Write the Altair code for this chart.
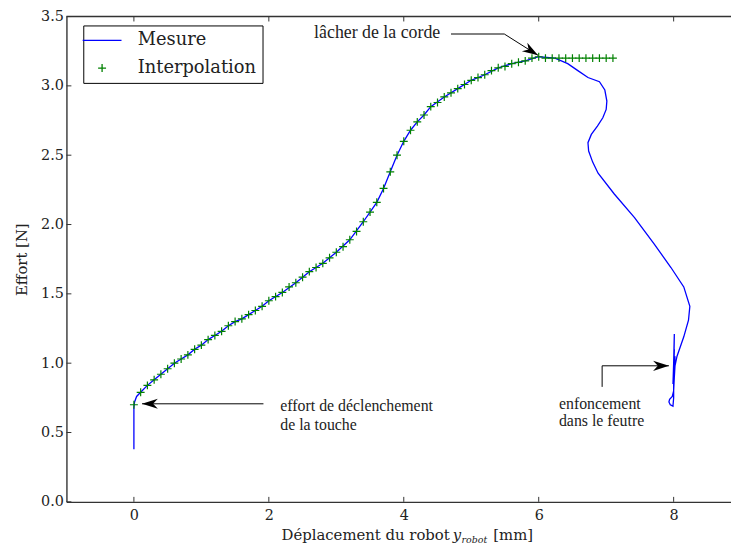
import altair as alt
import pandas as pd

# ---------------- data ----------------
mes_x = [0.0, 0.0, 0.0, 0.01, 0.04, 0.1, 0.2, 0.3, 0.4, 0.5, 0.6, 0.7, 0.8, 0.9, 1.0,
         1.1, 1.2, 1.3, 1.4, 1.5, 1.6, 1.7, 1.8, 1.9, 2.0, 2.2, 2.4, 2.6, 2.8, 3.0,
         3.2, 3.4, 3.5, 3.6, 3.7, 3.8, 3.9, 4.0, 4.1, 4.2, 4.3, 4.4, 4.6, 4.8, 5.0,
         5.2, 5.4, 5.6, 5.8, 6.0, 6.24, 6.43, 6.58, 6.73, 6.9, 6.98, 7.01, 7.0, 6.95,
         6.87, 6.78, 6.73, 6.74, 6.8, 6.88, 7.12, 7.42, 7.71, 7.96, 8.15, 8.24, 8.22,
         8.15, 8.05, 8.02, 8.01, 8.0, 7.98, 7.94, 7.93, 7.95, 7.99, 8.0, 8.0, 8.01,
         8.0, 7.99, 8.01, 8.0, 8.02, 8.01]
mes_y = [0.38, 0.55, 0.68, 0.72, 0.76, 0.79, 0.84, 0.88, 0.92, 0.96, 1.00, 1.03, 1.06, 1.10, 1.13,
         1.17, 1.20, 1.23, 1.27, 1.30, 1.32, 1.35, 1.38, 1.41, 1.45, 1.51, 1.58, 1.66, 1.72, 1.80,
         1.89, 2.02, 2.09, 2.16, 2.26, 2.38, 2.50, 2.60, 2.68, 2.74, 2.79, 2.85, 2.92, 2.98, 3.04,
         3.08, 3.13, 3.16, 3.18, 3.21, 3.20, 3.16, 3.11, 3.06, 3.03, 2.97, 2.89, 2.83, 2.77,
         2.71, 2.65, 2.59, 2.53, 2.45, 2.37, 2.22, 2.05, 1.86, 1.69, 1.55, 1.41, 1.31,
         1.19, 1.05, 0.98, 0.90, 0.80, 0.76, 0.74, 0.72, 0.70, 0.69, 0.75, 0.90, 1.21,
         1.00, 0.85, 1.10, 0.90, 1.05, 0.95]

interp_x = [0.0, 0.1, 0.2, 0.3, 0.4, 0.5, 0.6, 0.7, 0.8, 0.9,
            1.0, 1.1, 1.2, 1.3, 1.4, 1.5, 1.6, 1.7, 1.8, 1.9,
            2.0, 2.1, 2.2, 2.3, 2.4, 2.5, 2.6, 2.7, 2.8, 2.9,
            3.0, 3.1, 3.2, 3.3, 3.4, 3.5, 3.6, 3.7, 3.8, 3.9,
            4.0, 4.1, 4.2, 4.3, 4.4, 4.5, 4.6, 4.7, 4.8, 4.9,
            5.0, 5.1, 5.2, 5.3, 5.4, 5.5, 5.6, 5.7, 5.8, 5.9,
            6.0, 6.1, 6.2, 6.3, 6.4, 6.5, 6.6, 6.7, 6.8, 6.9,
            7.0, 7.1]
interp_y = [0.70, 0.79, 0.84, 0.88, 0.92, 0.96, 1.00, 1.03, 1.06, 1.10,
            1.13, 1.17, 1.20, 1.23, 1.27, 1.30, 1.32, 1.35, 1.38, 1.41,
            1.45, 1.48, 1.51, 1.55, 1.58, 1.62, 1.66, 1.69, 1.72, 1.76,
            1.80, 1.84, 1.89, 1.95, 2.02, 2.09, 2.16, 2.26, 2.38, 2.50,
            2.60, 2.68, 2.74, 2.79, 2.85, 2.88, 2.92, 2.95, 2.98, 3.01,
            3.04, 3.06, 3.08, 3.11, 3.13, 3.14, 3.16, 3.17, 3.18, 3.20,
            3.21, 3.20, 3.20, 3.20, 3.20, 3.20, 3.20, 3.20, 3.20, 3.20,
            3.20, 3.20]

series_names = ["Mesure", "Interpolation"]
series_colors = ["#0000ff", "#008000"]

xtick_vals = [0, 2, 4, 6, 8]
ytick_vals = [0.0, 0.5, 1.0, 1.5, 2.0, 2.5, 3.0, 3.5]

# annotation "lâcher de la corde"
top_text = ["lâcher de la corde"]
top_x = [4.54]
top_y = [3.38]
# other annotations (left aligned)
ann_text = ["effort de déclenchement", "de la touche", "enfoncement", "dans le feutre"]
ann_x = [2.17, 2.17, 6.30, 6.30]
ann_y = [0.693, 0.557, 0.707, 0.586]

conn_id = ["a", "a", "a", "b", "b", "c", "c", "c"]
conn_order = [0, 1, 2, 0, 1, 0, 1, 2]
conn_x = [4.70, 5.49, 5.99, 1.92, 0.12, 6.94, 6.94, 7.93]
conn_y = [3.374, 3.374, 3.22, 0.707, 0.707, 0.829, 0.981, 0.981]

head_x = [5.99, 0.12, 7.93]
head_y = [3.22, 0.707, 0.981]
head_angle = [32, 180, 0]

# ---------------- layout / style ----------------
W, H = 671, 490
XDOM = [-1, 8.85]
YDOM = [0, 3.5]
SERIF = "DejaVu Serif"
ANN_FONT = "Liberation Serif"
DARK = "#333333"
TXT = "#222222"

LINE_PATH = "M-2.45,0L2.45,0"
PLUS_PATH = "M-0.5,0L0.5,0M0,-0.5L0,0.5"
HEAD_PATH = "M0,0L-1,-0.32L-0.7,0L-1,0.32Z"

xs = alt.Scale(domain=XDOM, nice=False, zero=False)
ys = alt.Scale(domain=YDOM, nice=False, zero=False)

mes_df = pd.DataFrame({"x": mes_x, "y": mes_y, "i": list(range(len(mes_x)))})
int_df = pd.DataFrame({"x": interp_x, "y": interp_y, "s": ["Interpolation"] * len(interp_x)})
ann_df = pd.DataFrame({"x": ann_x, "y": ann_y, "t": ann_text})
top_df = pd.DataFrame({"x": top_x, "y": top_y, "t": top_text})
conn_df = pd.DataFrame({"x": conn_x, "y": conn_y, "g": conn_id, "o": conn_order})
head_df = pd.DataFrame({"x": head_x, "y": head_y, "ang": head_angle})
xt_df = pd.DataFrame({"x": xtick_vals})
yt_df = pd.DataFrame({"y": ytick_vals})

X_AXIS = alt.Axis(
    values=xtick_vals, title=None, ticks=False, grid=False, labelPadding=7,
    labelFont=SERIF, labelFontSize=14.5, labelColor=TXT,
    domainColor=DARK, domainWidth=1.4, format="d")
Y_AXIS = alt.Axis(
    values=ytick_vals, format=".1f", title="Effort [N]", ticks=False, grid=False,
    labelPadding=3, labelFont=SERIF, labelFontSize=14.5, labelColor=TXT,
    titleFont=SERIF, titleFontSize=15, titleFontWeight="normal", titleColor=TXT,
    titlePadding=11, domainColor=DARK, domainWidth=1.4)

X = alt.X("x:Q", scale=xs, axis=X_AXIS)
Y = alt.Y("y:Q", scale=ys, axis=Y_AXIS)

legend = alt.Legend(
    title=None, orient="none", legendX=17, legendY=9,
    fillColor="white", strokeColor="black", padding=6,
    symbolSize=256, symbolStrokeWidth=1.3, symbolOffset=4,
    labelFont=SERIF, labelFontSize=18, labelColor=TXT,
    rowPadding=10, labelOffset=27,
)

mesure = alt.Chart(mes_df).mark_line(color="#0000ff", strokeWidth=1.3).encode(
    x=X, y=Y, order="i:Q")

interp = alt.Chart(int_df).mark_point(filled=False, size=256, strokeWidth=1.2, opacity=1).encode(
    x=X, y=Y,
    color=alt.Color("s:N", scale=alt.Scale(domain=series_names, range=series_colors), legend=legend),
    shape=alt.Shape("s:N", scale=alt.Scale(domain=series_names, range=[LINE_PATH, PLUS_PATH]), legend=legend),
)

conn = alt.Chart(conn_df).mark_line(color="black", strokeWidth=1).encode(
    x=X, y=Y, detail="g:N", order="o:Q")

heads = alt.Chart(head_df).mark_point(shape=HEAD_PATH, filled=True, color="black",
                                      size=1024, opacity=1, strokeWidth=0).encode(
    x=X, y=Y, angle=alt.Angle("ang:Q", scale=None))

ann = alt.Chart(ann_df).mark_text(
    align="left", baseline="middle", font=ANN_FONT, fontSize=16, color=TXT
).encode(x=X, y=Y, text="t:N")

ann_top = alt.Chart(top_df).mark_text(
    align="right", baseline="middle", font=ANN_FONT, fontSize=18, color=TXT
).encode(x=X, y=Y, text="t:N")

# inward ticks and top spine
yticks = alt.Chart(yt_df).mark_rule(color=DARK, strokeWidth=1).encode(
    y=Y, x=alt.value(0), x2=alt.value(5))
xticks_b = alt.Chart(xt_df).mark_rule(color=DARK, strokeWidth=1).encode(
    x=X, y=alt.value(H - 5), y2=alt.value(H))
xticks_t = alt.Chart(xt_df).mark_rule(color=DARK, strokeWidth=1).encode(
    x=X, y=alt.value(0), y2=alt.value(5))
top_spine = alt.Chart(pd.DataFrame({"k": [0]})).mark_rule(color=DARK, strokeWidth=1.4).encode(
    x=alt.value(0), x2=alt.value(W), y=alt.value(0))

# x axis title with subscript
def title_piece(text, px, py, align, size, style):
    return alt.Chart(pd.DataFrame({"t": [text]})).mark_text(
        align=align, baseline="alphabetic", font=SERIF, fontSize=size,
        fontStyle=style, color=TXT
    ).encode(text="t:N", x=alt.value(px), y=alt.value(py))

xt1 = title_piece("Déplacement du robot", 387, 529, "right", 15, "normal")
xt2 = title_piece("y", 390, 529, "left", 15, "italic")
xt3 = title_piece("robot", 399, 532, "left", 9.5, "italic")
xt4 = title_piece("[mm]", 431, 529, "left", 15, "normal")

chart = alt.layer(
    mesure, interp, conn, heads, ann, ann_top,
    yticks, xticks_b, xticks_t, top_spine, xt1, xt2, xt3, xt4,
).properties(
    width=W, height=H,
    padding={"left": 59, "top": 6, "right": 0, "bottom": 44},
    autosize=alt.AutoSizeParams(type="none"),
    background="white",
).configure_view(stroke=None)

chart.save("out.html", embed_options={"renderer": "svg", "actions": False})
